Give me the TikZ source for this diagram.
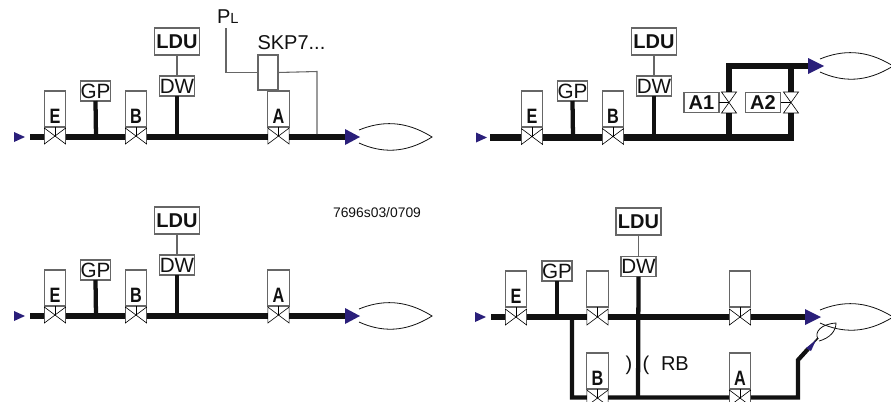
\documentclass[tikz,border=0pt]{standalone}
\usepackage{fontspec}
\setmainfont{Liberation Sans}
\definecolor{pipecol}{HTML}{111111}
\definecolor{tipcol}{HTML}{2A1F7A}
\definecolor{boxcol}{HTML}{666666}
\tikzset{
  x=0.75pt,y=-0.75pt,
  boxed/.style={draw=boxcol,line width=0.8pt,fill=white,inner sep=0pt,outer sep=0pt,text=pipecol},
  ldubox/.style={boxed,minimum width=33.75pt,minimum height=20.25pt,font=\bfseries\fontsize{15}{15}\selectfont},
  dwbox/.style={boxed,minimum width=26.25pt,minimum height=15pt,font=\fontsize{15.5}{15}\selectfont},
  gpbox/.style={boxed,minimum width=22.5pt,minimum height=15pt,font=\fontsize{15.5}{15}\selectfont},
  actbox/.style={boxed,minimum width=16pt,minimum height=27pt,font=\bfseries\fontsize{15.6}{15}\selectfont},
  abox/.style={boxed,minimum width=26.25pt,minimum height=15pt,font=\bfseries\fontsize{15}{15}\selectfont},
  skpbox/.style={boxed,minimum width=15pt,minimum height=26.25pt},
  valvebox/.style={inner sep=0pt,outer sep=0pt,fill=white,minimum width=16pt,minimum height=12pt},
  valvetall/.style={inner sep=0pt,outer sep=0pt,fill=white,minimum width=11.25pt,minimum height=15.75pt},
  vline/.style={draw=black,line width=0.45pt},
  pipe/.style={draw=pipecol,line width=5.2pt},
  stem/.style={draw=pipecol,line width=3.2pt},
  branch/.style={draw=pipecol,line width=3.2pt},
  signal/.style={draw=boxcol,line width=0.8pt},
  lensline/.style={draw=pipecol,line width=0.6pt},
  tip/.style={fill=tipcol},
  lbl/.style={inner sep=0pt,outer sep=0pt,text=pipecol,font=\fontsize{15}{15}\selectfont},
}
\newcommand{\vlabel}[1]{\raisebox{-10.5pt}[0pt][0pt]{\makebox[0pt]{\scalebox{0.78}[1]{#1}}}}
\newcommand{\valveH}[2]{\node[valvebox] (#1) at (#2) {};
  \draw[vline] (#1.north west)--(#1.south east)--(#1.north east)--(#1.south west)--cycle;}
\newcommand{\valveV}[2]{\node[valvetall] (#1) at (#2) {};
  \draw[vline] (#1.north west)--(#1.north east)--(#1.south west)--(#1.south east)--cycle;}
\newcommand{\flowtip}[3]{\fill[tip] (#1,#2-8)--(#1+#3,#2)--(#1,#2+8)--cycle;}
\newcommand{\smalltip}[2]{\fill[tip] (#1,#2-5)--(#1+11,#2)--(#1,#2+5)--cycle;}
\newcommand{\lens}[2]{\draw[lensline] (#1,#2-7) .. controls (#1+22,#2-16) and (#1+46,#2-17) .. (#1+73,#2)
  .. controls (#1+46,#2+17) and (#1+22,#2+16) .. (#1,#2+6);}
\begin{document}
\begin{tikzpicture}
\useasboundingbox (0,0) rectangle (891,401);
\clip (0,0) rectangle (891,401);

% ---------- panel 1 ----------
\coordinate (a0) at (30,137); \coordinate (a1) at (347,137);
\draw[pipe] (a0)--(a1);
\node[gpbox] (agp) at (95.5,91) {GP};
\node[dwbox] (adw) at (177,86) {DW};
\node[ldubox] (aldu) at (177,41.5) {LDU};
\coordinate (agpj) at (96,137); \coordinate (adwj) at (177,137);
\draw[stem] (agp.south)--(agpj); \draw[stem] (adw.south)--(adwj);
\draw[signal] (aldu.south)--(adw.north);
\node[actbox] (aE) at (55,109) {\vlabel{E}};
\node[actbox] (aB) at (136,109) {\vlabel{B}};
\node[actbox] (aA) at (278.5,109) {\vlabel{A}};
\valveH{avE}{55,136} \valveH{avB}{136,136} \valveH{avA}{278.5,136}
\draw[vline] (aE.south)--(avE.center); \draw[vline] (aB.south)--(avB.center); \draw[vline] (aA.south)--(avA.center);
\node[skpbox] (askp) at (268,72.5) {};
\coordinate (apl) at (226,28); \coordinate (aplc) at (226,72.5);
\coordinate (ar0) at (317,71.5); \coordinate (ar1) at (317,134);
\draw[signal] (apl)--(aplc)--(askp.west);
\draw[signal] (askp.east)--(ar0)--(ar1);
\node[lbl,anchor=base west] (apltxt) at (217,23) {P\fontsize{11}{11}\selectfont L};
\node[lbl,anchor=base west] (askptxt) at (257.5,49) {SKP7...};
\flowtip{345}{137}{15}
\smalltip{14}{137}
\lens{359}{137}

% ---------- panel 2 ----------
\coordinate (b0) at (490,137.5); \coordinate (bc) at (791,137.5);
\coordinate (bu1) at (729,137.5); \coordinate (bt1) at (729,66); \coordinate (bt2) at (810,66); \coordinate (bu2) at (791,66);
\draw[pipe] (b0)--(bc)--(bu2);
\draw[pipe] (bu1)--(bt1)--(bt2);
\node[gpbox] (bgp) at (572.5,91) {GP};
\node[dwbox] (bdw) at (654,86) {DW};
\node[ldubox] (bldu) at (654,41.5) {LDU};
\coordinate (bgpj) at (573,137.5); \coordinate (bdwj) at (654,137.5);
\draw[stem] (bgp.south)--(bgpj); \draw[stem] (bdw.south)--(bdwj);
\draw[signal] (bldu.south)--(bdw.north);
\node[actbox] (bE) at (532,109) {\vlabel{E}};
\node[actbox] (bB) at (613,109) {\vlabel{B}};
\valveH{bvE}{532,136.5} \valveH{bvB}{613,136.5}
\draw[vline] (bE.south)--(bvE.center); \draw[vline] (bB.south)--(bvB.center);
\valveV{bv1}{729,102.5} \valveV{bv2}{791,102.5}
\node[abox] (bA1) at (701.5,102.5) {A1};
\node[abox] (bA2) at (763,102.5) {A2};
\draw[vline] (bA1.east)--(bv1.center); \draw[vline] (bA2.east)--(bv2.center);
\flowtip{808}{66}{16}
\smalltip{476}{137.5}
\lens{820}{66}

% ---------- panel 3 ----------
\coordinate (c0) at (30,316); \coordinate (c1) at (347,316);
\draw[pipe] (c0)--(c1);
\node[gpbox] (cgp) at (95.5,270) {GP};
\node[dwbox] (cdw) at (177,265) {DW};
\node[ldubox] (cldu) at (177,220.5) {LDU};
\coordinate (cgpj) at (96,316); \coordinate (cdwj) at (177,316);
\draw[stem] (cgp.south)--(cgpj); \draw[stem] (cdw.south)--(cdwj);
\draw[signal] (cldu.south)--(cdw.north);
\node[actbox] (cE) at (55,288) {\vlabel{E}};
\node[actbox] (cB) at (136,288) {\vlabel{B}};
\node[actbox] (cA) at (278.5,288) {\vlabel{A}};
\valveH{cvE}{55,315} \valveH{cvB}{136,315} \valveH{cvA}{278.5,315}
\draw[vline] (cE.south)--(cvE.center); \draw[vline] (cB.south)--(cvB.center); \draw[vline] (cA.south)--(cvA.center);
\flowtip{345}{316}{15}
\smalltip{14}{316}
\lens{359}{316}
\node[lbl,anchor=center,font=\fontsize{10.4}{11}\selectfont] (cref) at (377,213) {7696s03/0709};

% ---------- panel 4 ----------
\coordinate (d0) at (491,317); \coordinate (d1) at (808,317);
\coordinate (dl0) at (572,317); \coordinate (dl1) at (572,397.5); \coordinate (dl2) at (798,397.5);
\coordinate (dl3) at (798,360); \coordinate (dl4) at (808,349);
\coordinate (dc) at (638,397.5);
\draw[branch] (dl0)--(dl1)--(dl2)--(dl3)--(dl4);
\node[gpbox] (dgp) at (557,271) {GP};
\node[dwbox] (ddw) at (638.5,266.5) {DW};
\node[ldubox] (dldu) at (638.5,221.5) {LDU};
\coordinate (dgpj) at (557,317);
\draw[pipe] (d0)--(d1);
\draw[stem] (dgp.south)--(dgpj); \draw[stem] (ddw.south)--(dc);
\draw[signal] (dldu.south)--(ddw.north);
\node[actbox] (dE) at (516,289) {\vlabel{E}};
\node[actbox] (dU1) at (597.5,289) {};
\node[actbox] (dU2) at (740,289) {};
\node[actbox] (dB) at (597.5,371) {\vlabel{B}};
\node[actbox] (dA) at (740,371) {\vlabel{A}};
\valveH{dvE}{516,317} \valveH{dvU}{597.5,317} \valveH{dvV}{740,317}
\valveH{dvB}{597.5,398} \valveH{dvA}{740,398}
\draw[vline] (dE.south)--(dvE.center); \draw[vline] (dU1.south)--(dvU.center); \draw[vline] (dU2.south)--(dvV.center);
\draw[vline] (dB.south)--(dvB.center); \draw[vline] (dA.south)--(dvA.center);
\node[lbl,anchor=base] (dp1) at (629,370) {)};
\node[lbl,anchor=base] (dp2) at (646,370) {(};
\node[lbl,anchor=base west] (drb) at (661,370) {RB};
\flowtip{805}{317}{16}
\smalltip{475}{317}
\lens{820}{317}
% small pilot flame
\coordinate (ds0) at (808,349); \coordinate (ds1) at (818,338);
\draw[draw=pipecol,line width=1.2pt] (ds0)--(ds1);
\fill[tip] (806,348)--(816,340)--(811,351)--cycle;
\draw[lensline] (818,339) .. controls (814,332) and (821,324) .. (836,323)
  .. controls (836,331) and (830,338) .. (819,341);
\end{tikzpicture}
\end{document}
